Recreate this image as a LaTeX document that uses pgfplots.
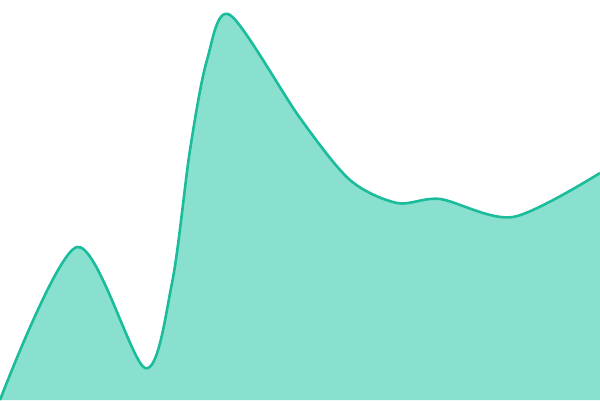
\documentclass[border=0pt]{standalone}
\usepackage{pgfplots}
\pgfplotsset{compat=1.18}
\definecolor{teal1}{RGB}{26,188,156}
\definecolor{tealfill}{RGB}{138,224,207}
\pgfplotstableread{
x y
0 0
77 153
145 32
172 117
190 250
207 340
230 385
300 282
350 220
397 197
440 201
513 183
600 227
}\datatab
\begin{document}
\begin{tikzpicture}
\begin{axis}[width=600pt,height=400pt,scale only axis,hide axis,
  xmin=0,xmax=600,ymin=0,ymax=400,clip=true]
\addplot[draw=none,fill=tealfill,smooth,tension=0.5] table {\datatab} \closedcycle;
\addplot[teal1,line width=2.6pt,smooth,tension=0.5] table {\datatab};
\end{axis}
\pgfresetboundingbox
\path[use as bounding box] (current axis.south west) rectangle (current axis.north east);
\end{tikzpicture}
\end{document}
